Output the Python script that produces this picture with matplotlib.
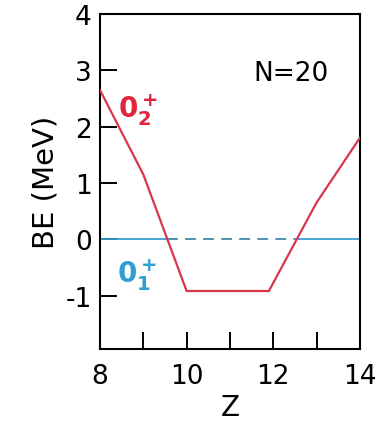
import numpy as np
import matplotlib
matplotlib.use("Agg")
import matplotlib.pyplot as plt

# Data
z_vals = [8, 9, 10, 11.9, 13, 14]
be_02 = [2.65, 1.15, -0.92, -0.92, 0.65, 1.8]
be_01_z = [8, 14]
be_01 = [0, 0]

x_ticks = [8, 9, 10, 11, 12, 13, 14]
x_ticklabels = ["8", "", "10", "", "12", "", "14"]
y_ticks = [-1, 0, 1, 2, 3, 4]
y_ticklabels = ["-1", "0", "1", "2", "3", "4"]

plt.rcParams['font.family'] = ['DejaVu Sans']

fig = plt.figure(figsize=(3.76, 4.31), dpi=100)
ax = fig.add_axes([0.266, 0.188, 0.691, 0.777])

red = '#d8364c'
blue = '#3a9fcf'

ax.plot(z_vals, be_02, color=red, lw=1.6, zorder=3)

# 0+_1 reference line: solid where it lies below the 0+_2 curve, dashed where above
zz = np.array(z_vals, dtype=float)
bb = np.array(be_02, dtype=float)
crossings = []
for i in range(len(zz) - 1):
    if bb[i] * bb[i + 1] < 0:
        crossings.append(zz[i] + (0 - bb[i]) * (zz[i + 1] - zz[i]) / (bb[i + 1] - bb[i]))
c1, c2 = crossings[0], crossings[-1]
ax.plot([be_01_z[0], c1], [be_01[0], be_01[0]], color=blue, lw=1.3, zorder=2)
ax.plot([c1, c2], [be_01[0], be_01[0]], color='#3f8aa8', lw=1.3, dashes=(6, 4), zorder=2)
ax.plot([c2, be_01_z[1]], [be_01[1], be_01[1]], color=blue, lw=1.3, zorder=2)

ax.set_xlim(8, 14)
ax.set_ylim(-1.95, 4)
ax.set_xticks(x_ticks)
ax.set_xticklabels(x_ticklabels)
ax.set_yticks(y_ticks)
ax.set_yticklabels(y_ticklabels)
ax.tick_params(axis='both', direction='in', length=12, width=1.4, labelsize=19)
ax.tick_params(axis='x', pad=10)
ax.tick_params(axis='y', pad=6)
for s in ax.spines.values():
    s.set_linewidth(1.5)

ax.set_xlabel('Z', fontsize=20, labelpad=3)
ax.set_ylabel('BE (MeV)', fontsize=21, labelpad=4)

ax.text(12.4, 2.95, 'N=20', fontsize=19, ha='center', va='center')
ax.text(8.88, 2.32, r'$\mathbf{0^+_2}$', fontsize=20, color='#e0253c', ha='center', va='center')
ax.text(8.85, -0.62, r'$\mathbf{0^+_1}$', fontsize=20, color='#2f9fd2', ha='center', va='center')

fig.savefig('out.png', dpi=100)
